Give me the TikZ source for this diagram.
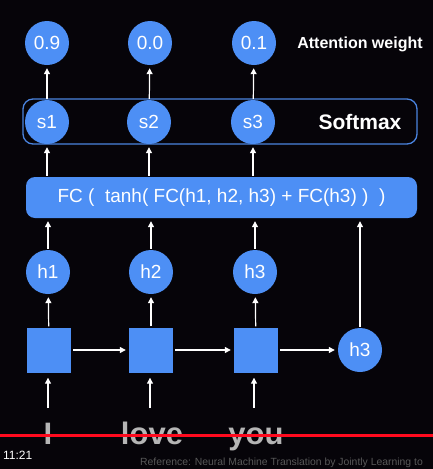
\documentclass[tikz,border=0pt]{standalone}
\usepackage{fontspec}
\setmainfont{Liberation Sans}
\usetikzlibrary{arrows.meta}
\definecolor{bg}{HTML}{060409}
\definecolor{kblue}{HTML}{4D8FF5}
\definecolor{kline}{HTML}{4A84E0}
\definecolor{wordgray}{HTML}{B5B5B5}
\definecolor{refgray}{HTML}{585858}
\definecolor{barred}{HTML}{FF0A1E}
\tikzset{
  circ/.style={circle, fill=kblue, minimum size=44pt, inner sep=0pt, text=white, font=\fontsize{19}{19}\selectfont},
  sq/.style={rectangle, fill=kblue, minimum width=44pt, minimum height=45pt, inner sep=0pt},
  arr/.style={draw=white, line width=1.2pt, -{Triangle[width=6pt,length=6pt]}, shorten >=3pt, shorten <=1pt},
  word/.style={text=wordgray, font=\bfseries\fontsize{31}{31}\selectfont, inner sep=0pt, anchor=base},
  lbl/.style={text=white, font=\bfseries, inner sep=0pt}
}
\begin{document}
\begin{tikzpicture}[x=1pt,y=-1pt]
\fill[bg] (0,0) rectangle (433,469);
\useasboundingbox (0,0) rectangle (433,469);
% softmax box
\node[draw=kline, line width=1.3pt, rounded corners=10pt, minimum width=394pt, minimum height=45pt, inner sep=0pt] (smbox) at (220,121.5) {};
% top attention weights
\node[circ] (a1) at (47,43) {0.9};
\node[circ] (a2) at (150,43) {0.0};
\node[circ] (a3) at (254,43) {0.1};
\node[lbl, font=\bfseries\fontsize{16}{16}\selectfont] (attn) at (360,44) {Attention weight};
% softmax scores
\node[circ] (s1) at (47,122) {s1};
\node[circ] (s2) at (149,122) {s2};
\node[circ] (s3) at (253,122) {s3};
\node[lbl, font=\bfseries\fontsize{21}{21}\selectfont] (smlbl) at (360,122) {Softmax};
% FC box
\node[fill=kblue, rounded corners=9pt, minimum width=391pt, minimum height=41pt, inner sep=0pt, text=white, font=\fontsize{19}{19}\selectfont] (fc) at (221.5,197.5) {FC (\ \ tanh( FC(h1, h2, h3) + FC(h3) )\ \ )};
% hidden states
\node[circ] (h1) at (48,272) {h1};
\node[circ] (h2) at (151,272) {h2};
\node[circ] (h3) at (255,272) {h3};
% RNN cells
\node[sq] (q1) at (49,350) {};
\node[sq] (q2) at (151,350) {};
\node[sq] (q3) at (256,350) {};
\node[circ] (h3b) at (360,350) {h3};
% words
\node[word] (w1) at (48,444) {I};
\node[word] (w2) at (152,444) {love};
\node[word] (w3) at (256,444) {you};
\coordinate (c1) at (48,408);
\coordinate (c2) at (150,408);
\coordinate (c3) at (254,408);
% arrows
\draw[arr] (s1) -- (a1);
\draw[arr] (s2) -- (a2);
\draw[arr] (s3) -- (a3);
\draw[arr] (s1 |- fc.north) -- (s1);
\draw[arr] (s2 |- fc.north) -- (s2);
\draw[arr] (s3 |- fc.north) -- (s3);
\draw[arr] (h1) -- (h1 |- fc.south);
\draw[arr] (h2) -- (h2 |- fc.south);
\draw[arr] (h3) -- (h3 |- fc.south);
\draw[arr] (h3b) -- (h3b |- fc.south);
\draw[arr] (q1) -- (h1);
\draw[arr] (q2) -- (h2);
\draw[arr] (q3) -- (h3);
\draw[arr, shorten <=2pt] (q1) -- (q2);
\draw[arr, shorten <=2pt] (q2) -- (q3);
\draw[arr, shorten <=2pt] (q3) -- (h3b);
\draw[arr, shorten <=0pt, shorten >=5pt] (c1) -- (c1 |- q1.south);
\draw[arr, shorten <=0pt, shorten >=5pt] (c2) -- (c2 |- q2.south);
\draw[arr, shorten <=0pt, shorten >=5pt] (c3) -- (c3 |- q3.south);
% video overlay
\coordinate (rl) at (0,435);
\coordinate (rr) at (433,435);
\draw[barred, line width=3pt] (rl) -- (rr);
\node[anchor=west, text=white, font=\fontsize{12}{12}\selectfont, inner sep=0pt] (time) at (3,455) {11:21};
\node[anchor=west, text=refgray, font=\fontsize{10.4}{10.4}\selectfont, inner sep=0pt] (ref) at (140,463) {Reference: Neural Machine Translation by Jointly Learning to};
\end{tikzpicture}
\end{document}
